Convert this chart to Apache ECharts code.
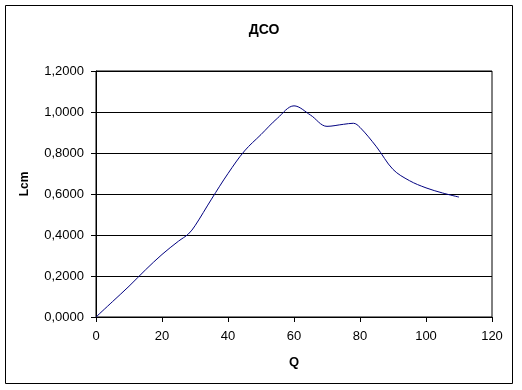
<!DOCTYPE html>
<html>
<head>
<meta charset="utf-8">
<script src="https://cdn.jsdelivr.net/npm/echarts@6/dist/echarts.min.js"></script>
<style>
html,body{margin:0;padding:0;background:#fff;}
#c{width:522px;height:390px;}
</style>
</head>
<body>
<div id="c"></div>
<script>
var titleText = 'ДСО';
var xName = 'Q';
var yName = 'Lcm';
var qValues = [0, 5, 10, 15, 20, 25, 28, 30, 35, 40, 45, 50, 55, 60, 65, 70, 75, 78, 80, 85, 90, 95, 100, 105, 110];
var lValues = [0, 0.075, 0.15, 0.23, 0.305, 0.37, 0.405, 0.445, 0.575, 0.70, 0.81, 0.89, 0.97, 1.03, 0.985, 0.93, 0.94, 0.945, 0.925, 0.83, 0.72, 0.665, 0.63, 0.605, 0.585];

var font = 'Liberation Sans, Arial, sans-serif';
var chart = echarts.init(document.getElementById('c'), null, {renderer: 'canvas'});
var data = qValues.map(function (q, i) { return [q, lValues[i]]; });
chart.setOption({
  animation: false,
  backgroundColor: '#fff',
  title: {
    text: titleText, left: 259, top: 18, textAlign: 'center',
    textStyle: {fontFamily: font, fontSize: 14, fontWeight: 'bold', color: '#000'}
  },
  graphic: [{
    type: 'rect', shape: {x: 5.5, y: 5.5, width: 507, height: 378},
    style: {fill: 'none', stroke: '#000', lineWidth: 1}, z: 100
  }, {
    type: 'text', x: 25, y: 184, rotation: Math.PI / 2,
    style: {text: yName, font: 'bold 12px ' + font, fill: '#000', align: 'center', verticalAlign: 'middle'}
  }],
  grid: {left: 96, right: 30, top: 71, bottom: 73, show: true, borderColor: '#000', borderWidth: 1, backgroundColor: '#fff'},
  xAxis: {
    type: 'value', min: 0, max: 120, interval: 20,
    name: xName, nameLocation: 'middle', nameGap: 39,
    nameTextStyle: {fontFamily: font, fontSize: 13, fontWeight: 'bold', color: '#000'},
    axisLine: {lineStyle: {color: '#000', width: 1}},
    axisTick: {show: true, length: 5, inside: false, lineStyle: {color: '#000'}},
    axisLabel: {fontFamily: font, fontSize: 13, color: '#000', margin: 13},
    splitLine: {show: false}
  },
  yAxis: {
    type: 'value', min: 0, max: 1.2, interval: 0.2,
    axisLine: {show: true, lineStyle: {color: '#000', width: 1}},
    axisTick: {show: true, length: 5, inside: false, lineStyle: {color: '#000'}},
    axisLabel: {fontFamily: font, fontSize: 13, color: '#000', margin: 12,
      formatter: function (v) { return v.toFixed(4).replace('.', ','); }},
    splitLine: {show: true, lineStyle: {color: '#000', width: 1}}
  },
  series: [{
    type: 'line', data: data, smooth: 0.35, showSymbol: false,
    lineStyle: {color: '#000080', width: 1}, itemStyle: {color: '#000080'}
  }]
});
</script>
</body>
</html>
